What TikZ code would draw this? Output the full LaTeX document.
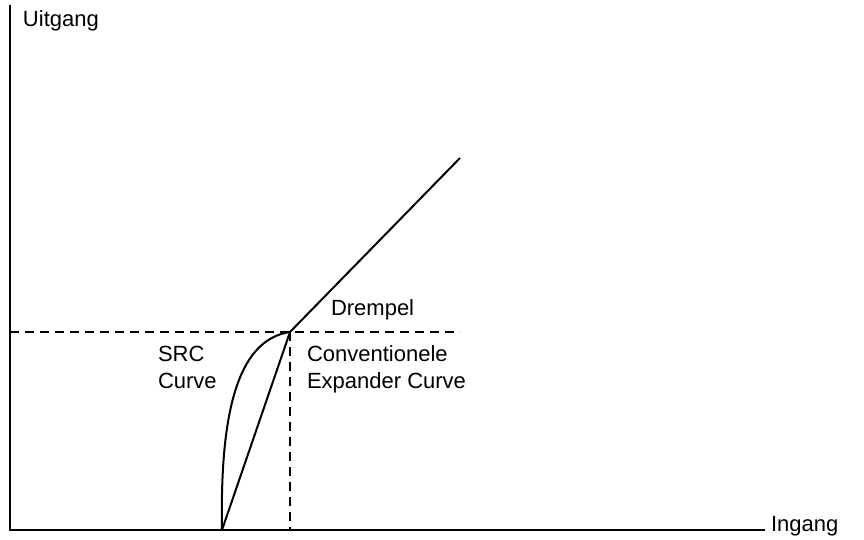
\documentclass[tikz,border=0pt]{standalone}
\usepackage{fontspec}
\setmainfont{Liberation Sans}
\begin{document}
\begin{tikzpicture}[x=1pt,y=-1pt,line width=2pt,
  lbl/.style={inner sep=0pt,font=\fontsize{22}{27}\selectfont,align=left},
  dsh/.style={dash pattern=on 9pt off 6pt,line width=1.8pt}]
\useasboundingbox (0,0) rectangle (864,540);
\coordinate (o) at (10,530);
\coordinate (ytop) at (10,5);
\coordinate (xend) at (765,530);
\coordinate (t) at (290,332);
\coordinate (top) at (460,158);
\coordinate (b) at (222,530);
\coordinate (hl) at (10,332);
\coordinate (hr) at (460,332);
\coordinate (vb) at (290,530);
\draw (ytop) -- (o) -- (xend);
\draw (b) -- (t) -- (top);
\draw (b) .. controls (220,420) and (235,340) .. (t);
\draw[dsh] (hl) -- (hr);
\draw[dsh] (t) -- (vb);
\node[lbl,anchor=west] (ui) at (22,21) {Uitgang};
\node[lbl,anchor=west] (in) at (770,526) {Ingang};
\node[lbl,anchor=west] (dr) at (330,310) {Drempel};
\node[lbl,anchor=north west] (src) at (157,345) {SRC\\Curve};
\node[lbl,anchor=north west] (ce) at (306,345) {Conventionele\\Expander Curve};
\end{tikzpicture}
\end{document}
